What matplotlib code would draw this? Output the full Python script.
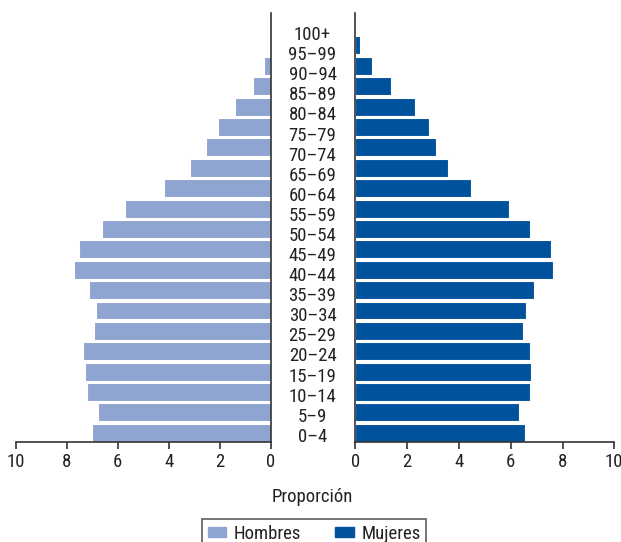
import matplotlib
matplotlib.use("Agg")
import matplotlib.pyplot as plt
import matplotlib.transforms as mtransforms
from matplotlib.patches import Patch
import numpy as np

plt.rcParams['font.family'] = ['Roboto Condensed', 'DejaVu Sans']

ages = ['0–4', '5–9', '10–14', '15–19', '20–24', '25–29', '30–34', '35–39',
        '40–44', '45–49', '50–54', '55–59', '60–64', '65–69', '70–74',
        '75–79', '80–84', '85–89', '90–94', '95–99', '100+']
hombres = [7.02, 6.77, 7.22, 7.30, 7.35, 6.94, 6.86, 7.15, 7.72, 7.53, 6.63,
           5.70, 4.19, 3.18, 2.53, 2.07, 1.40, 0.68, 0.24, 0.03, 0.0]
mujeres = [6.56, 6.32, 6.73, 6.78, 6.76, 6.49, 6.59, 6.91, 7.63, 7.56, 6.76,
           5.92, 4.48, 3.58, 3.10, 2.83, 2.29, 1.37, 0.63, 0.17, 0.0]
ticks = [0, 2, 4, 6, 8, 10]

c_h = '#8fa4d0'
c_m = '#00529c'
spine_c = '#333333'
txt_c = '#222222'
fs = 13.5

W, H = 621, 542
fig = plt.figure(figsize=(W / 100, H / 100), dpi=100)
bottom_px, top_px = 442, 13
axh = (bottom_px - top_px) / H
axy = 1 - bottom_px / H
ax1 = fig.add_axes([16 / W, axy, (270.5 - 16) / W, axh])
ax2 = fig.add_axes([355.3 / W, axy, (614.3 - 355.3) / W, axh])

y = np.arange(len(ages))
ax1.barh(y, hombres, height=0.88, color=c_h, edgecolor='white', linewidth=0.8)
ax2.barh(y, mujeres, height=0.88, color=c_m, edgecolor='white', linewidth=0.8)

for ax in (ax1, ax2):
    ax.set_xlim(0, 10)
    ax.set_ylim(-0.45, 20.59)
    ax.set_yticks([])
    ax.set_xticks(ticks)
    ax.tick_params(axis='x', direction='out', length=5, width=1.2,
                   color=spine_c, labelsize=fs, labelcolor=txt_c, pad=3)
    ax.spines['top'].set_visible(False)
    for s in ax.spines.values():
        s.set_color(spine_c)
        s.set_linewidth(1.2)
ax1.invert_xaxis()
ax1.spines['left'].set_visible(False)
ax2.spines['right'].set_visible(False)

# age group labels between the two panels
tr = mtransforms.blended_transform_factory(fig.transFigure, ax1.transData)
for i, lab in enumerate(ages):
    fig.text(312.5 / W, -0.44 + 0.985 * i, lab, transform=tr, ha='center',
             va='baseline', fontsize=fs, color=txt_c)

fig.text(312.5 / W, 1 - 497 / H, 'Proporción', ha='center', va='center',
         fontsize=fs, color=txt_c)

handles = [Patch(color=c_h, label='Hombres'), Patch(color=c_m, label='Mujeres')]
leg = fig.legend(handles=handles, loc='upper center',
                 bbox_to_anchor=(314 / W, 1 - 519 / H), ncol=2, frameon=True,
                 fancybox=False, fontsize=fs, handlelength=1.0,
                 handleheight=0.45, handletextpad=0.4, columnspacing=1.8,
                 borderpad=0.3, borderaxespad=0)
leg.get_frame().set_edgecolor(spine_c)
leg.get_frame().set_linewidth(1.2)
for t in leg.get_texts():
    t.set_color(txt_c)

fig.savefig('out.png', dpi=100)
